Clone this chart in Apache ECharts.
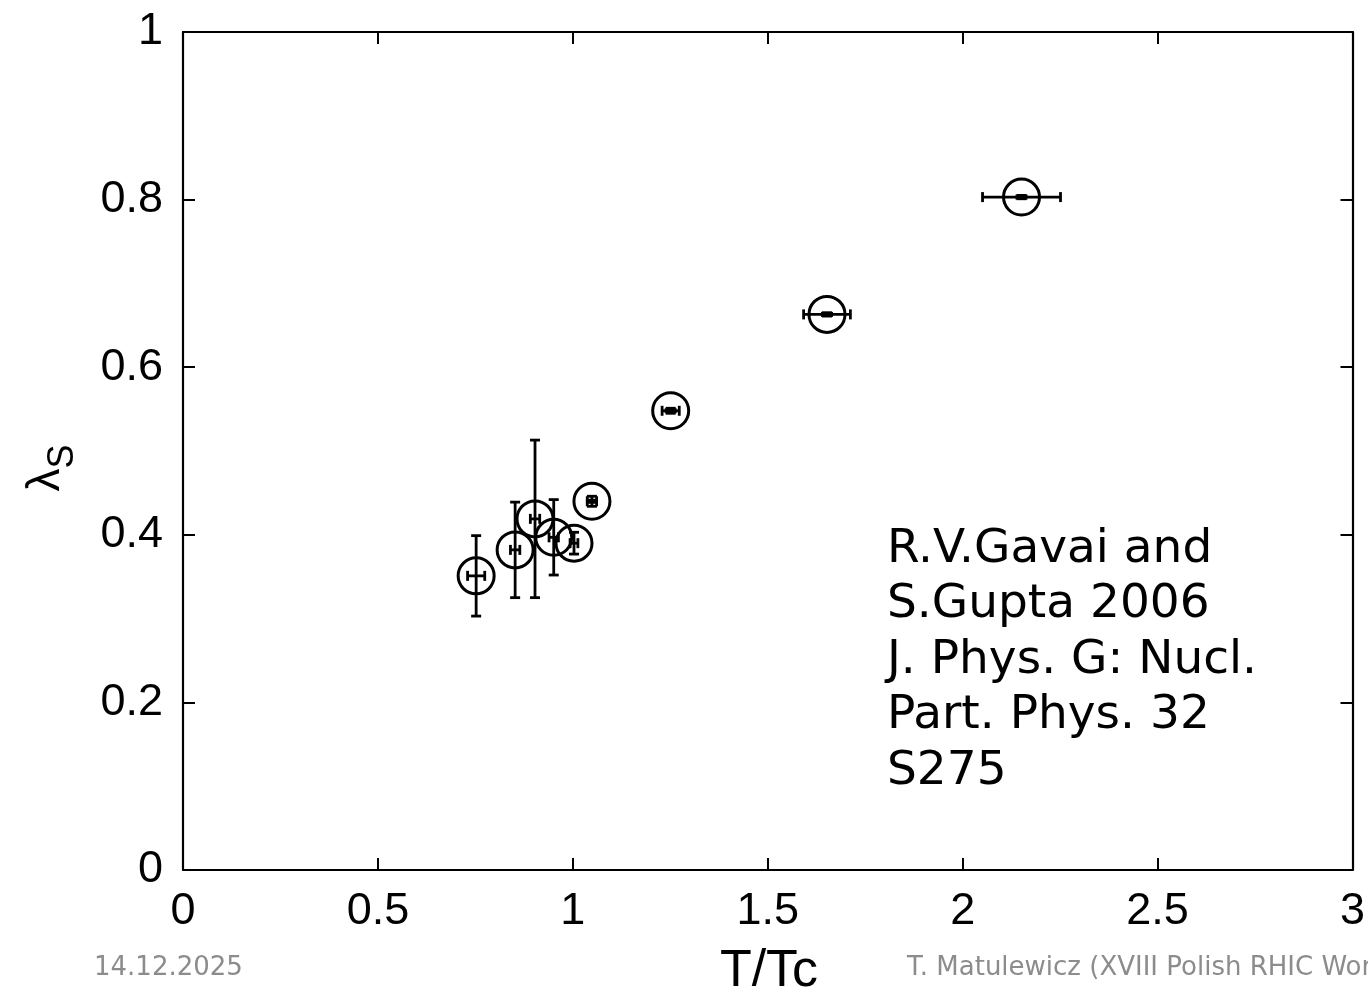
<!DOCTYPE html>
<html>
<head>
<meta charset="utf-8">
<script src="https://cdn.jsdelivr.net/npm/echarts@6/dist/echarts.min.js"></script>
<style>
html,body{margin:0;padding:0;background:#fff;}
#chart{width:1368px;height:993px;}
</style>
</head>
<body>
<div id="chart"></div>
<script>
// Data
const tOverTc  = [0.752, 0.852, 0.903, 0.951, 1.003, 1.049, 1.251, 1.652, 2.151];
const lambdaS  = [0.351, 0.382, 0.419, 0.397, 0.390, 0.440, 0.548, 0.663, 0.803];
const tErr     = [0.022, 0.012, 0.012, 0.012, 0.010, 0.012, 0.022, 0.060, 0.100];
const lambdaErr= [0.048, 0.057, 0.094, 0.045, 0.013, 0.006, 0.003, 0.002, 0.002];
const xTicks = [0, 0.5, 1, 1.5, 2, 2.5, 3];
const yTicks = [0, 0.2, 0.4, 0.6, 0.8, 1];
const annotation = ['R.V.Gavai and', 'S.Gupta 2006', 'J. Phys. G: Nucl.', 'Part. Phys. 32', 'S275'];
const footerLeft = '14.12.2025';
const footerRight = 'T. Matulewicz (XVIII Polish RHIC Workshop)';

const pts = tOverTc.map((x, i) => [x, lambdaS[i], tErr[i], lambdaErr[i]]);

const chart = echarts.init(document.getElementById('chart'), null, {renderer: 'canvas'});
const axisFont = '"Liberation Sans", Arial, Helvetica, sans-serif';
const textFont = '"DejaVu Sans", Verdana, sans-serif';
const LW = 2.8;

function errRender(params, api) {
  const x = api.value(0), y = api.value(1), dx = api.value(2), dy = api.value(3);
  const c = api.coord([x, y]);
  const l = api.coord([x - dx, y]), r = api.coord([x + dx, y]);
  const t = api.coord([x, y + dy]), b = api.coord([x, y - dy]);
  const st = {stroke: '#000', lineWidth: LW, fill: null};
  const cap = 5;
  const ch = [];
  ch.push({type: 'line', shape: {x1: l[0], y1: c[1], x2: r[0], y2: c[1]}, style: st});
  ch.push({type: 'line', shape: {x1: l[0], y1: c[1] - cap, x2: l[0], y2: c[1] + cap}, style: st});
  ch.push({type: 'line', shape: {x1: r[0], y1: c[1] - cap, x2: r[0], y2: c[1] + cap}, style: st});
  ch.push({type: 'line', shape: {x1: c[0], y1: t[1], x2: c[0], y2: b[1]}, style: st});
  ch.push({type: 'line', shape: {x1: c[0] - cap, y1: t[1], x2: c[0] + cap, y2: t[1]}, style: st});
  ch.push({type: 'line', shape: {x1: c[0] - cap, y1: b[1], x2: c[0] + cap, y2: b[1]}, style: st});
  if (dy < 0.01) {
    ch.push({type: 'rect', shape: {x: c[0] - 6, y: c[1] - 2.5, width: 12, height: 5}, style: {fill: '#000'}});
  }
  return {type: 'group', children: ch};
}

const axisCommon = {
  axisLine: {show: true, onZero: false, lineStyle: {color: '#000', width: 2.2}},
  axisTick: {show: true, inside: true, length: 12, lineStyle: {color: '#000', width: 2}},
  splitLine: {show: false}
};

chart.setOption({
  backgroundColor: '#fff',
  animation: false,
  grid: {left: 183, top: 32, right: 10, bottom: 123, containLabel: false},
  xAxis: [
    Object.assign({type: 'value', min: xTicks[0], max: xTicks[xTicks.length - 1], interval: 0.5, position: 'bottom',
      axisLabel: {color: '#000', fontSize: 45, fontFamily: axisFont, margin: 19,
        formatter: v => String(v)}}, axisCommon),
    Object.assign({type: 'value', min: xTicks[0], max: xTicks[xTicks.length - 1], interval: 0.5, position: 'top',
      axisLabel: {show: false}}, axisCommon)
  ],
  yAxis: [
    Object.assign({type: 'value', min: yTicks[0], max: yTicks[yTicks.length - 1], interval: 0.2, position: 'left',
      axisLabel: {color: '#000', fontSize: 45, fontFamily: axisFont, margin: 20,
        formatter: v => String(Math.round(v * 10) / 10)}}, axisCommon),
    Object.assign({type: 'value', min: yTicks[0], max: yTicks[yTicks.length - 1], interval: 0.2, position: 'right',
      axisLabel: {show: false}}, axisCommon)
  ],
  series: [
    {
      type: 'custom',
      renderItem: errRender,
      data: pts,
      encode: {x: 0, y: 1},
      z: 3
    },
    {
      type: 'scatter',
      data: pts.map(p => [p[0], p[1]]),
      symbol: 'circle',
      symbolSize: 36,
      itemStyle: {color: 'rgba(255,255,255,0)', borderColor: '#000', borderWidth: 3, opacity: 1},
      z: 4
    }
  ],
  graphic: [
    {
      type: 'text', x: 887, y: 522,
      style: {
        text: annotation.join('\n'),
        font: '47px ' + textFont,
        fill: '#000', lineHeight: 55.5
      }
    },
    {
      type: 'text', x: 46, y: 468, rotation: Math.PI / 2,
      style: {
        text: '{a|λ}{b|S}',
        align: 'center', verticalAlign: 'middle',
        rich: {
          a: {fontSize: 46, fontFamily: axisFont, fill: '#000', verticalAlign: 'bottom'},
          b: {fontSize: 36, fontFamily: axisFont, fill: '#000', verticalAlign: 'bottom', padding: [0, 0, -12, 0]}
        }
      }
    },
    {
      type: 'text', x: 769, y: 972,
      style: {text: 'T/Tc', font: '52px ' + axisFont, fill: '#000', align: 'center', verticalAlign: 'middle'}
    },
    {
      type: 'text', x: 94, y: 968,
      style: {text: footerLeft, font: '26px ' + textFont, fill: '#8c8c8c', align: 'left', verticalAlign: 'middle'}
    },
    {
      type: 'text', x: 907, y: 968,
      style: {text: footerRight, font: '26px ' + textFont, fill: '#8c8c8c', align: 'left', verticalAlign: 'middle'}
    }
  ]
});
</script>
</body>
</html>
